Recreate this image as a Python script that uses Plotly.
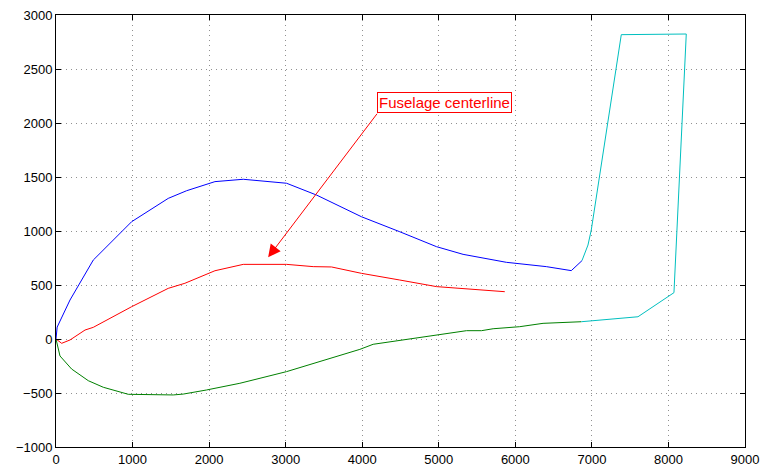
import plotly.graph_objects as go

# Upper outline (blue)
upper_x = [0, 15, 183, 487, 988, 1466, 1706, 2076, 2446, 3012, 3403, 3620, 3990, 4491, 4970, 5317, 5883, 6405, 6731, 6870]
upper_y = [0, 110, 361, 731, 1086, 1302, 1373, 1457, 1479, 1442, 1333, 1256, 1132, 993, 855, 784, 710, 670, 633, 725]

# Lower outline (green)
lower_x = [0, 52, 204, 422, 618, 944, 1532, 1662, 1967, 2402, 3012, 3969, 4143, 4992, 5362, 5558, 5710, 6057, 6362, 6862]
lower_y = [0, -157, -278, -386, -447, -512, -518, -510, -472, -410, -302, -96, -49, 43, 77, 77, 95, 114, 145, 160]

# Fuselage centerline (red)
center_x = [0, 74, 183, 379, 487, 988, 1466, 1684, 2076, 2446, 3012, 3360, 3599, 3990, 4491, 4970, 5862]
center_y = [0, -40, -9, 83, 108, 299, 469, 516, 632, 691, 691, 670, 667, 608, 546, 485, 438]

# Tail (cyan)
tail_x = [6870, 6949, 6992, 7384, 8233, 8072, 7602, 6862]
tail_y = [725, 870, 1009, 2818, 2824, 429, 206, 160]

label_text = "Fuselage centerline"
arrow_tip = (2771, 756)
arrow_tail = (4208, 2099)
label_pos = (5074, 2190)

FONT = "Liberation Sans, Arial, sans-serif"

fig = go.Figure()
fig.add_trace(go.Scatter(x=upper_x, y=upper_y, mode="lines", line=dict(color="#0000ff", width=1)))
fig.add_trace(go.Scatter(x=lower_x, y=lower_y, mode="lines", line=dict(color="#008000", width=1)))
fig.add_trace(go.Scatter(x=center_x, y=center_y, mode="lines", line=dict(color="#ff0000", width=1)))
fig.add_trace(go.Scatter(x=tail_x, y=tail_y, mode="lines", line=dict(color="#00bfbf", width=1)))

fig.add_annotation(x=arrow_tip[0], y=arrow_tip[1], ax=arrow_tail[0], ay=arrow_tail[1],
                   axref="x", ayref="y", xref="x", yref="y", text="",
                   showarrow=True, arrowhead=2, arrowsize=2.5, arrowwidth=1, arrowcolor="#ff0000")
fig.add_annotation(x=label_pos[0], y=label_pos[1], xref="x", yref="y", text=label_text,
                   showarrow=False, font=dict(color="#ff0000", size=15, family=FONT),
                   bordercolor="#ff0000", borderwidth=1, borderpad=1, bgcolor="white")

axis_common = dict(showline=True, linecolor="black", linewidth=1, mirror="allticks",
                   ticks="inside", ticklen=5, tickcolor="black", showgrid=True,
                   gridcolor="#909090", griddash="1px,4px", gridwidth=1, zeroline=False,
                   automargin=False,
                   tickfont=dict(family=FONT, size=13, color="black"))

fig.update_xaxes(range=[0, 9000], tickvals=list(range(0, 9001, 1000)), **axis_common)
fig.update_yaxes(range=[-1000, 3000], tickvals=list(range(-1000, 3001, 500)), **axis_common)

fig.update_layout(width=763, height=467, margin=dict(l=56, r=18, t=15, b=20),
                  paper_bgcolor="white", plot_bgcolor="white", showlegend=False)

fig.write_html("out.html", config={"displayModeBar": False},
               post_script="document.body.style.margin='0';document.body.style.overflow='hidden';")
